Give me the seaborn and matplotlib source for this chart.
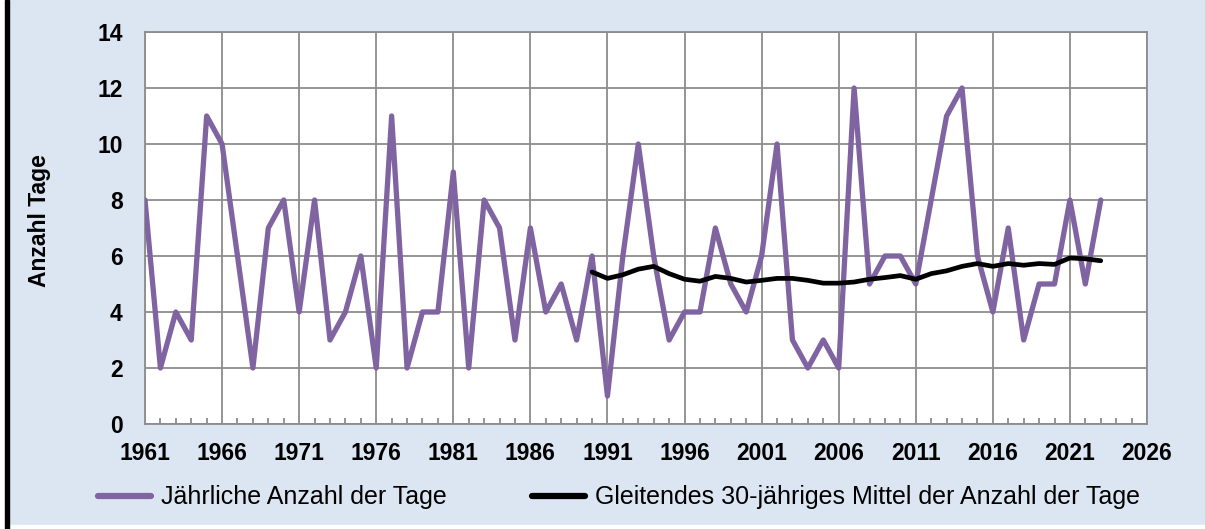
import matplotlib
matplotlib.use("Agg")
import matplotlib.pyplot as plt
import seaborn as sns
import pandas as pd
from matplotlib.lines import Line2D
from matplotlib.patches import Rectangle
from matplotlib.ticker import FixedLocator, MultipleLocator

sns.set_theme(style="white")
plt.rcParams["font.family"] = ["Liberation Sans", "DejaVu Sans"]
plt.rcParams["text.color"] = "black"

# Jährliche Anzahl der Tage, 1961-2023
years = list(range(1961, 2024))
annual = [8, 2, 4, 3, 11, 10, 6, 2, 7, 8,
          4, 8, 3, 4, 6, 2, 11, 2, 4, 4,
          9, 2, 8, 7, 3, 7, 4, 5, 3, 6,
          1, 6, 10, 6, 3, 4, 4, 7, 5, 4,
          6, 10, 3, 2, 3, 2, 12, 5, 6, 6,
          5, 8, 11, 12, 6, 4, 7, 3, 5, 5,
          8, 5, 8]

# Gleitendes 30-jähriges Mittel, 1990-2023
mean_years = list(range(1990, 2024))
mean30 = [5.43, 5.20, 5.33, 5.53, 5.63, 5.37, 5.17, 5.10, 5.27, 5.20,
          5.07, 5.13, 5.20, 5.20, 5.13, 5.03, 5.03, 5.07, 5.17, 5.23,
          5.30, 5.17, 5.37, 5.47, 5.63, 5.73, 5.63, 5.73, 5.67, 5.73,
          5.70, 5.93, 5.90, 5.83]

xticks = list(range(1961, 2027, 5))
yticks = list(range(0, 15, 2))

label_annual = "Jährliche Anzahl der Tage"
label_mean = "Gleitendes 30-jähriges Mittel der Anzahl der Tage"

purple = "#8064a2"
bg = "#dce6f2"
grid_col = "#8c8c8c"

df_a = pd.DataFrame({"year": years, "value": annual})
df_m = pd.DataFrame({"year": mean_years, "value": mean30})

fig = plt.figure(figsize=(12.05, 5.29), dpi=100, facecolor=bg)
ax = fig.add_axes([145 / 1205, 1 - 424 / 529, 1002 / 1205, 392 / 529])
ax.set_facecolor("white")

sns.lineplot(data=df_a, x="year", y="value", ax=ax, color=purple, linewidth=3.8,
             zorder=3)
sns.lineplot(data=df_m, x="year", y="value", ax=ax, color="black", linewidth=3.4,
             zorder=4, solid_capstyle="round")

ax.set_xlim(1961, 2026)
ax.set_ylim(0, 14)
ax.xaxis.set_major_locator(FixedLocator(xticks))
ax.xaxis.set_minor_locator(MultipleLocator(1))
ax.set_yticks(yticks)

ax.grid(True, which="major", color=grid_col, linewidth=1.3, zorder=1)
for s in ax.spines.values():
    s.set_color(grid_col)
    s.set_linewidth(1.3)

ax.tick_params(axis="both", which="major", labelsize=16.5, color=grid_col,
               labelcolor="black", width=1.3, length=6, direction="out")
ax.tick_params(axis="y", pad=10)
ax.tick_params(axis="x", pad=7)
ax.tick_params(axis="x", which="minor", bottom=True, direction="in", length=4,
               width=1.3, color=grid_col)
for lab in ax.get_xticklabels() + ax.get_yticklabels():
    lab.set_fontweight("bold")

ax.set_xlabel("")
ax.set_ylabel("Anzahl Tage", fontsize=16.5, fontweight="bold", color="black")
ax.yaxis.set_label_coords(-0.094, 0.52)

handles = [Line2D([], [], color=purple, linewidth=4.5),
           Line2D([], [], color="black", linewidth=4.5)]
fig.legend(handles, [label_annual, label_mean], loc="center",
           bbox_to_anchor=(0.514, 0.06), ncol=2, frameon=False,
           fontsize=18, handlelength=2.1, handletextpad=0.42,
           columnspacing=3.4, labelcolor="black")

# Rahmen
fig.add_artist(Rectangle((0, 0), 5 / 1205, 1, transform=fig.transFigure,
                         color="white", zorder=10))
fig.add_artist(Rectangle((0, 0), 1, 4 / 529, transform=fig.transFigure,
                         color="white", zorder=10))
fig.add_artist(Rectangle((5 / 1205, 0), 4 / 1205, 1, transform=fig.transFigure,
                         color="black", zorder=11))

fig.savefig("out.png", dpi=100, facecolor=bg)
